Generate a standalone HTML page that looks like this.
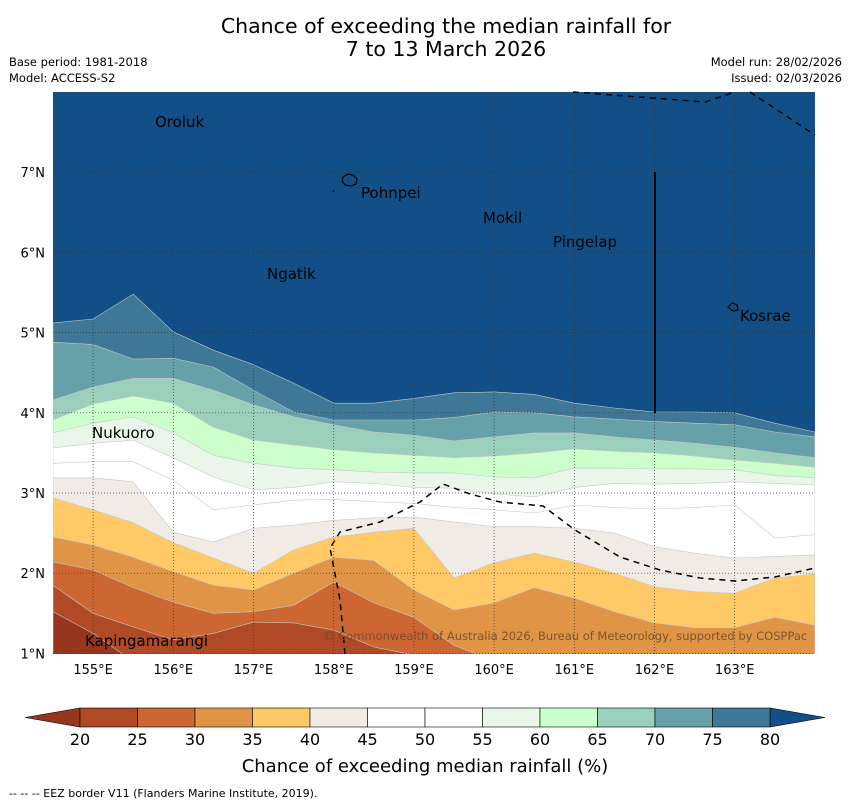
<!DOCTYPE html>
<html><head><meta charset="utf-8"><style>
body{margin:0;background:#fff;}
svg{display:block;font-family:"DejaVu Sans","Liberation Sans",sans-serif;}
</style></head><body>
<svg id="chart" width="850" height="804" viewBox="0 0 850 804" xmlns="http://www.w3.org/2000/svg">
<text x="446" y="33" font-size="20.5" text-anchor="middle">Chance of exceeding the median rainfall for</text>
<text x="446" y="56" font-size="20.5" text-anchor="middle">7 to 13 March 2026</text>
<text x="9" y="66" font-size="11.5">Base period: 1981-2018</text>
<text x="9" y="82" font-size="11.5">Model: ACCESS-S2</text>
<text x="842" y="66" font-size="11.5" text-anchor="end">Model run: 28/02/2026</text>
<text x="842" y="82" font-size="11.5" text-anchor="end">Issued: 02/03/2026</text>
<defs><clipPath id="mapclip"><rect x="53" y="92" width="762" height="562"/></clipPath></defs>
<g id="map" clip-path="url(#mapclip)"></g>
<g id="overlay"></g>
<g id="axes"></g>
<g id="cbar"></g>
<text x="425" y="772" font-size="18" text-anchor="middle">Chance of exceeding median rainfall (%)</text>
<text x="9" y="797" font-size="11">--  --  -- EEZ border V11 (Flanders Marine Institute, 2019).</text>
</svg>
<script>
const lons = [154.5,155,155.5,156,156.5,157,157.5,158,158.5,159,159.5,160,160.5,161,161.5,162,162.5,163,163.5,164];
const levels = [80,75,70,65,60,55,50,45,40,35,30,25,20];
const b80 = [5.12,5.17,5.48,5.01,4.78,4.60,4.37,4.12,4.12,4.18,4.25,4.26,4.23,4.12,4.06,4.01,4.01,4.00,3.87,3.76];
const b75 = [4.88,4.85,4.67,4.68,4.57,4.28,4.01,3.91,3.91,3.91,3.94,4.01,4.00,3.95,3.92,3.89,3.87,3.85,3.76,3.70];
const b70 = [4.16,4.32,4.43,4.43,4.28,4.10,3.95,3.85,3.76,3.72,3.65,3.70,3.75,3.75,3.70,3.66,3.62,3.57,3.50,3.44];
const b65 = [3.91,4.11,4.21,4.12,3.82,3.66,3.60,3.54,3.50,3.47,3.44,3.46,3.50,3.55,3.52,3.50,3.46,3.41,3.37,3.32];
const b60 = [3.75,3.87,3.95,3.75,3.47,3.37,3.31,3.29,3.26,3.25,3.25,3.20,3.19,3.31,3.31,3.30,3.30,3.29,3.22,3.19];
const b55 = [3.56,3.62,3.66,3.44,3.20,3.04,3.07,3.14,3.12,3.07,3.06,2.99,2.95,3.07,3.12,3.11,3.12,3.14,3.12,3.10];
const b50 = [3.37,3.39,3.39,3.16,2.79,2.85,2.91,2.92,2.89,2.87,2.82,2.79,2.75,2.85,2.82,2.80,2.82,2.85,2.44,2.48];
const b45 = [3.19,3.19,3.14,2.51,2.39,2.56,2.60,2.66,2.69,2.70,2.64,2.58,2.58,2.56,2.50,2.33,2.25,2.19,2.21,2.23];
const b40 = [2.94,2.79,2.63,2.38,2.19,2.00,2.29,2.45,2.51,2.56,1.94,2.13,2.25,2.14,2.00,1.83,1.77,1.75,1.94,1.99];
const b35 = [2.45,2.35,2.20,2.02,1.85,1.79,2.00,2.20,2.16,1.79,1.54,1.63,1.82,1.69,1.52,1.38,1.32,1.32,1.45,1.35];
const b30 = [2.14,2.04,1.82,1.64,1.50,1.52,1.60,1.89,1.63,1.45,1.10,0.9,0.9,0.9,0.9,0.9,0.9,0.9,0.9,0.9];
const b25 = [1.85,1.50,1.33,1.17,1.25,1.39,1.38,1.29,1.08,0.98,0.9,0.9,0.9,0.9,0.9,0.9,0.9,0.9,0.9,0.9];
const b20 = [1.52,1.25,0.9,0.9,0.9,0.9,0.9,0.9,0.9,0.9,0.9,0.9,0.9,0.9,0.9,0.9,0.9,0.9,0.9,0.9];
const boundaries = [b80,b75,b70,b65,b60,b55,b50,b45,b40,b35,b30,b25,b20];
const bandColors = ['#3f7797','#66a0a8','#99cfbb','#ccffcc','#eaf6ea','#ffffff','#ffffff','#f0ebe5','#fec966','#e09445','#cc6633','#b04a26','#96361e'];
const aboveColor = '#134f87';
const cbarTicks = [20,25,30,35,40,45,50,55,60,65,70,75,80];
const cbarColors = ['#b04a26','#cc6633','#e09445','#fec966','#f0ebe5','#ffffff','#ffffff','#eaf6ea','#ccffcc','#99cfbb','#66a0a8','#3f7797'];
const lonTicks = [155,156,157,158,159,160,161,162,163];
const latTicks = [1,2,3,4,5,6,7];

const NS='http://www.w3.org/2000/svg';
const X = lon => 53 + (lon-154.5)*80.2;
const Y = lat => 92 + (8-lat)*80.2;
function mk(tag, attrs, parent){const e=document.createElementNS(NS,tag);for(const k in attrs)e.setAttribute(k,attrs[k]);parent.appendChild(e);return e;}
const map=document.getElementById('map');
let bg=mk('rect',{x:53,y:92,width:762,height:562,fill:aboveColor},map);


boundaries.forEach((b,i)=>{
  let d='M'+X(lons[0])+','+Y(b[0]);
  for(let j=1;j<lons.length;j++) d+=' L'+X(lons[j]).toFixed(1)+','+Y(b[j]).toFixed(1);
  d+=' L'+X(lons[lons.length-1])+',700 L'+X(lons[0])+',700 Z';
  const p=mk('path',{d:d,fill:bandColors[i],stroke:'#c8c8c8','stroke-width':0.6},map);
  
  
});
const ov=document.getElementById('overlay');
lonTicks.forEach(l=>{const g=mk('line',{x1:X(l),x2:X(l),y1:92,y2:654,stroke:'#333','stroke-width':0.7,'stroke-dasharray':'1,2'},ov);

});
latTicks.forEach(l=>{const g=mk('line',{x1:53,x2:815,y1:Y(l),y2:Y(l),stroke:'#333','stroke-width':0.7,'stroke-dasharray':'1,2'},ov);

});
const eez=[[[573,92],[705,102],[735,92]],[[750,92],[815,135]],[[345,654],[340,600],[330,548],[340,532],[380,522],[420,502],[443,484],[470,494],[500,502],[543,506],[575,530],[620,557],[660,570],[700,578],[735,581],[775,577],[815,568]]];
eez.forEach(pts=>{const e=mk('polyline',{points:pts.map(p=>p.join(',')).join(' '),fill:'none',stroke:'#000','stroke-width':1.5,'stroke-dasharray':'6,5'},ov);

});
let vl=mk('line',{x1:655,x2:655,y1:172,y2:413,stroke:'#000','stroke-width':2},ov);


let isl=mk('path',{d:'M343,177 l5,-3 5,1 4,4 -1,5 -5,2 -6,-1 -3,-4 Z M334,190 l-1,2',fill:'none',stroke:'#000','stroke-width':1.2},ov);


let isl2=mk('path',{d:'M728,307 l4,-4 5,2 1,5 -5,1 Z',fill:'none',stroke:'#000','stroke-width':1.2},ov);


const places=[['Oroluk',155,127],['Pohnpei',361,198],['Mokil',483,223],['Pingelap',553,247],['Ngatik',267,279],['Kosrae',740,321],['Nukuoro',92,438],['Kapingamarangi',85,646]];
places.forEach(p=>{const t=mk('text',{x:p[1],y:p[2],'font-size':15},ov);t.textContent=p[0];

});
let cp=mk('text',{x:323,y:640,'font-size':11.5,fill:'#6b4a2a','fill-opacity':0.85},ov);cp.textContent='© Commonwealth of Australia 2026, Bureau of Meteorology, supported by COSPPac';


const ax=document.getElementById('axes');
lonTicks.forEach(l=>{const t=mk('text',{x:X(l),y:674,'font-size':13,'text-anchor':'middle'},ax);t.textContent=l+'°E';

});
latTicks.forEach(l=>{const t=mk('text',{x:45,y:Y(l)+5,'font-size':13,'text-anchor':'end'},ax);t.textContent=l+'°N';

});
const cb=document.getElementById('cbar');
const CX=v=>80+(v-20)*(690/60);
let lt=mk('polygon',{points:`25,717.5 ${CX(20)},708 ${CX(20)},727`,fill:'#96361e',stroke:'#000','stroke-width':0.6},cb);


let rt=mk('polygon',{points:`825,717.5 ${CX(80)},708 ${CX(80)},727`,fill:aboveColor,stroke:'#000','stroke-width':0.6},cb);


cbarColors.forEach((c,i)=>{const r=mk('rect',{x:CX(cbarTicks[i]),y:708,width:CX(cbarTicks[i+1])-CX(cbarTicks[i]),height:19,fill:c,stroke:'#000','stroke-width':0.6},cb);

});
cbarTicks.forEach(v=>{const t=mk('text',{x:CX(v),y:745,'font-size':16,'text-anchor':'middle'},cb);t.textContent=v;

});
</script>
</body></html>
